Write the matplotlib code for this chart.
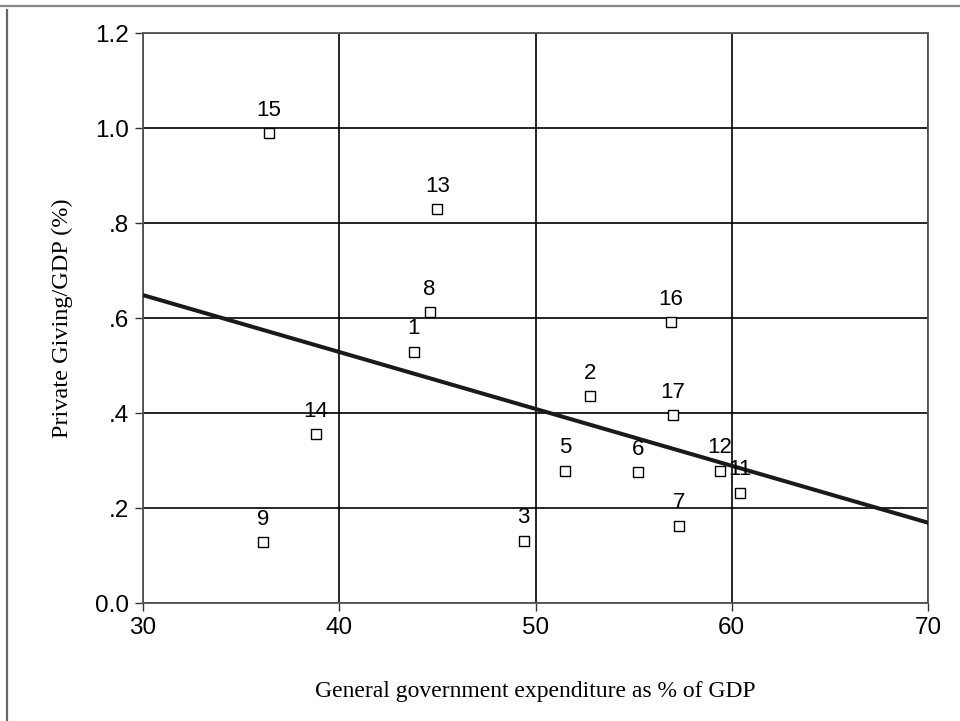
import matplotlib.pyplot as plt
from matplotlib.lines import Line2D

# country numbers and their values
country_ids = ['1', '2', '3', '5', '6', '7', '8', '9', '11', '12', '13', '14', '15', '16', '17']
gov_spending = [43.8, 52.8, 49.4, 51.5, 55.2, 57.3, 44.6, 36.1, 60.4, 59.4, 45.0, 38.8, 36.4, 56.9, 57.0]
private_giving = [0.530, 0.436, 0.132, 0.279, 0.276, 0.164, 0.613, 0.129, 0.233, 0.279, 0.830, 0.356, 0.990, 0.592, 0.396]

# fitted trend line end points
trend_x = [30, 70]
trend_y = [0.649, 0.170]

x_ticks = [30, 40, 50, 60, 70]
y_ticks = [0.0, 0.2, 0.4, 0.6, 0.8, 1.0, 1.2]
y_tick_labels = ['0.0', '.2', '.4', '.6', '.8', '1.0', '1.2']

sans = 'Liberation Sans'
serif = 'Liberation Serif'

fig = plt.figure(figsize=(9.6, 7.21), dpi=100)
ax = fig.add_axes([0.149, 0.163, 0.8177, 0.7908])

ax.grid(True, color='black', linewidth=1.2)
ax.set_axisbelow(True)

ax.plot(trend_x, trend_y, color='#1a1a1a', linewidth=2.9, zorder=3)
ax.plot(gov_spending, private_giving, linestyle='none', marker='s', markersize=7,
        markerfacecolor='white', markeredgecolor='black', markeredgewidth=1.0, zorder=4)

for cid, x, y in zip(country_ids, gov_spending, private_giving):
    ax.annotate(cid, (x, y), xytext=(0, 9), textcoords='offset points',
                ha='center', va='bottom', fontsize=16, family=sans, zorder=5)

ax.set_xlim(30, 70)
ax.set_ylim(0, 1.2)
ax.set_xticks(x_ticks)
ax.set_yticks(y_ticks)
ax.set_yticklabels(y_tick_labels)
ax.tick_params(direction='out', length=6, width=1, color='#333333', labelsize=17.5, pad=4)
for lab in ax.get_xticklabels() + ax.get_yticklabels():
    lab.set_family(sans)

for side in ax.spines.values():
    side.set_color('#555555')
    side.set_linewidth(1.3)

ax.set_xlabel('General government expenditure as % of GDP', family=serif, fontsize=17, labelpad=30)
ax.set_ylabel('Private Giving/GDP (%)', family=serif, fontsize=17.5, labelpad=16)

# page frame lines
fig.add_artist(Line2D([0, 1], [1 - 6 / 721, 1 - 6 / 721], color='#888888', linewidth=1.6))
fig.add_artist(Line2D([7 / 960, 7 / 960], [0, 1 - 10 / 721], color='#666666', linewidth=1.6))

fig.savefig('out.png', dpi=100)
